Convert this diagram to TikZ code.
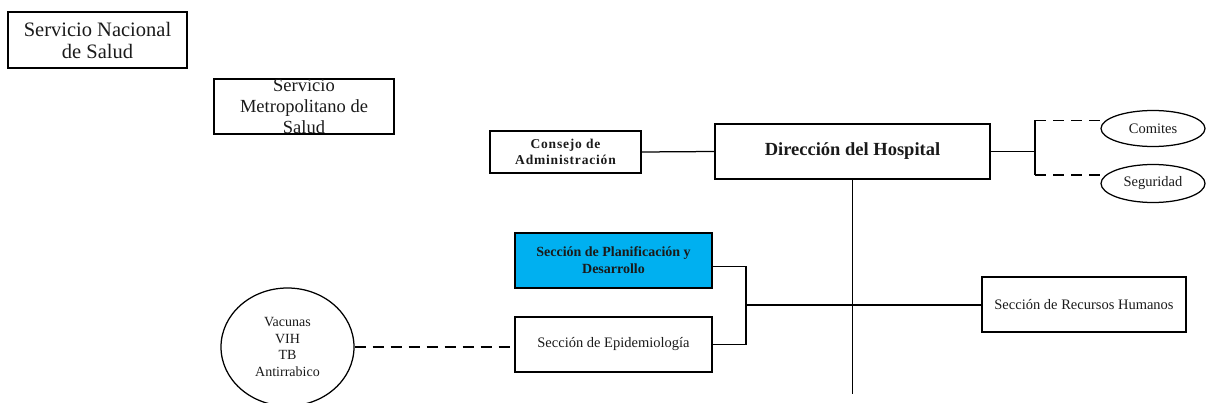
\documentclass[tikz,border=0pt]{standalone}
\usepackage{fontspec}
\setmainfont{Liberation Serif}
\usetikzlibrary{shapes.geometric}
\definecolor{planblue}{HTML}{00B0F0}
\definecolor{txt}{HTML}{1A1A1A}
\begin{document}
\begin{tikzpicture}[x=1pt,y=-1pt,line width=1.25pt,
  box/.style={draw=black,rectangle,inner sep=0pt,align=center,text=txt},
  oval/.style={draw=black,ellipse,inner sep=0pt,align=center,text=txt},
  dashline/.style={dash pattern=on 11pt off 7pt}]
\useasboundingbox (0,0) rectangle (1206,403);

\node[box,minimum width=179pt,minimum height=56pt,font=\fontsize{20.5}{22}\selectfont] (nac) at (97.5,40) {Servicio Nacional\\de Salud};
\node[box,minimum width=180pt,minimum height=55pt,font=\fontsize{18.5}{21}\selectfont] (met) at (304,106.5) {Servicio\\Metropolitano de\\Salud};

\node[box,minimum width=151pt,minimum height=42pt,font=\fontsize{13.5}{16}\selectfont\bfseries\addfontfeatures{LetterSpace=6}] (con) at (565.5,152) {Consejo de\\Administración};
\node[box,minimum width=275pt,minimum height=55pt,font=\fontsize{18.5}{21}\selectfont\bfseries] (dir) at (852.5,151.5) {Dirección del Hospital};

\node[oval,minimum width=104pt,minimum height=36pt,font=\fontsize{14.5}{16}\selectfont] (com) at (1153,128.5) {Comites};
\node[oval,minimum width=104pt,minimum height=38pt,font=\fontsize{14.5}{16}\selectfont] (seg) at (1153,183.5) {Seguridad};

\node[box,fill=planblue,minimum width=197pt,minimum height=55pt,font=\fontsize{14}{17}\selectfont\bfseries] (pla) at (613.5,260.5) {Sección de Planificación y\\Desarrollo};
\node[box,minimum width=197pt,minimum height=55pt,font=\fontsize{14.5}{17}\selectfont] (epi) at (613.5,344.5) {Sección de Epidemiología};
\node[box,minimum width=204pt,minimum height=55pt,font=\fontsize{14.5}{17}\selectfont] (rh) at (1084,304.5) {Sección de Recursos Humanos};

\node[oval,minimum width=133pt,minimum height=118pt,font=\fontsize{14}{16.5}\selectfont] (vac) at (287.5,347) {Vacunas\\VIH\\TB\\Antirrabico};

% connectors
\draw (con.east) -- (dir.west);
\coordinate (bm) at (1035,0 |- dir.east);
\coordinate (bt) at (bm |- com.170);
\coordinate (bb) at (bm |- seg.170);
\draw (dir.east) -- (bm);
\draw (bt) -- (bb);
\draw[dashline] (bt) -- (com.170);
\draw[dashline] (bb) -- (seg.170);

\coordinate (tend) at (dir.south |- 0,394);
\draw (dir.south) -- (tend);

\coordinate (lj) at (746,305);
\draw ([yshift=-6pt]pla.east) -| (lj |- epi.east) -- (epi.east);
\draw (lj) -- (lj -| rh.west);

\draw[dashline] (vac.east) -- (vac.east -| epi.west);
\end{tikzpicture}
\end{document}
